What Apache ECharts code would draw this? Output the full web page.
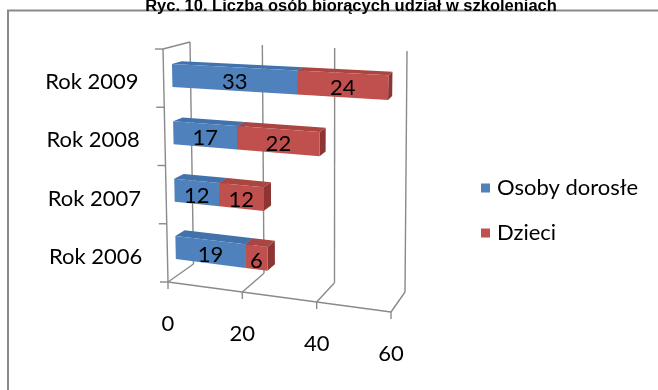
<!DOCTYPE html>
<html>
<head>
<meta charset="utf-8">
<script src="https://cdn.jsdelivr.net/npm/echarts@6/dist/echarts.min.js"></script>
<style>
  html, body { margin: 0; padding: 0; background: #fff; }
  #chart { width: 658px; height: 390px; }
</style>
</head>
<body>
<div id="chart"></div>
<script>
// ---- data ----
const chartTitle = 'Ryc. 10. Liczba osób biorących udział w szkoleniach';
const years = ['Rok 2006', 'Rok 2007', 'Rok 2008', 'Rok 2009'];
const adults = [19, 12, 17, 33];
const children = [6, 12, 22, 24];
const valueTicks = [0, 20, 40, 60];
const seriesNames = ['Osoby dorosłe', 'Dzieci'];

// ---- 3D box used to give the bars perspective ----
// screen corners: f = front plane, k = back plane; b = floor, t = ceiling; [left, right]
const BOX = {
  f: { b: [[168, 282], [391, 312]], t: [[163, 49], [397, 60]] },
  k: { b: [[193.5, 264], [405, 292]], t: [[190, 42], [407, 51]] }
};
const BAR_Z = [0.32, 0.68];      // depth range of the bars inside the box
const BAR_FILL = 0.4;            // bar thickness as a share of the category band
const FONT = '22px Lato, "Open Sans", sans-serif';
const LINE = { stroke: '#8a8a8a', lineWidth: 1.4 };

function lerp(a, b, t) { return [a[0] + (b[0] - a[0]) * t, a[1] + (b[1] - a[1]) * t]; }
function project(u, w, z) {
  const f = lerp(lerp(BOX.f.b[0], BOX.f.b[1], u), lerp(BOX.f.t[0], BOX.f.t[1], u), w);
  const k = lerp(lerp(BOX.k.b[0], BOX.k.b[1], u), lerp(BOX.k.t[0], BOX.k.t[1], u), w);
  return lerp(f, k, z);
}
// pixel position in the flat grid -> normalised (u, w)
function norm(cs, p) {
  return [(p[0] - cs.x) / cs.width, (cs.y + cs.height - p[1]) / cs.height];
}

function barRenderer(shade) {
  return function (params, api) {
    const cs = params.coordSys;
    const cat = api.value(0), base = api.value(1), val = api.value(2);
    const a = norm(cs, api.coord([base, cat]));
    const b = norm(cs, api.coord([base + val, cat]));
    const dh = api.size([0, 1])[1] * BAR_FILL / 2 / cs.height;
    const u0 = a[0], u1 = b[0], w0 = a[1] - dh, w1 = a[1] + dh;
    const z0 = BAR_Z[0], z1 = BAR_Z[1];
    const front = [project(u0, w0, z0), project(u1, w0, z0), project(u1, w1, z0), project(u0, w1, z0)];
    const top = [project(u0, w1, z0), project(u1, w1, z0), project(u1, w1, z1), project(u0, w1, z1)];
    const side = [project(u1, w0, z0), project(u1, w0, z1), project(u1, w1, z1), project(u1, w1, z0)];
    const c = project((u0 + u1) / 2, (w0 + w1) / 2, z0);
    return {
      type: 'group',
      children: [
        { type: 'polygon', shape: { points: side }, style: { fill: shade.side } },
        { type: 'polygon', shape: { points: top }, style: { fill: shade.top } },
        { type: 'polygon', shape: { points: front }, style: { fill: shade.front } },
        {
          type: 'text', z2: 10,
          style: { text: String(val), x: c[0], y: c[1] + 3, align: 'center', verticalAlign: 'middle', font: FONT, fill: '#000' }
        }
      ]
    };
  };
}

// value gridlines on back wall and floor, with ticks and labels
function valueGridRenderer(params, api) {
  const cs = params.coordSys;
  const v = api.value(0);
  const u = norm(cs, api.coord([v, 0]))[0];
  const fb = project(u, 0, 0), kb = project(u, 0, 1), kt = project(u, 1, 1);
  return {
    type: 'group',
    children: [
      { type: 'line', shape: { x1: kb[0], y1: kb[1], x2: kt[0], y2: kt[1] }, style: LINE },
      { type: 'line', shape: { x1: fb[0], y1: fb[1], x2: kb[0], y2: kb[1] }, style: LINE },
      { type: 'line', shape: { x1: fb[0], y1: fb[1], x2: fb[0], y2: fb[1] + 7 }, style: LINE },
      {
        type: 'text',
        style: { text: String(v), x: fb[0], y: fb[1] + 42, align: 'center', verticalAlign: 'middle', font: FONT, fill: '#000' }
      }
    ]
  };
}

// floor front edge, category axis edge, side-wall top edge and category ticks/labels
function frameRenderer(params, api) {
  const cs = params.coordSys;
  const n = years.length;
  const items = [];
  const seg = (p, q) => items.push({ type: 'line', shape: { x1: p[0], y1: p[1], x2: q[0], y2: q[1] }, style: LINE });
  seg(project(0, 0, 0), project(1, 0, 0));
  seg(project(0, 0, 0), project(0, 1, 0));
  seg(project(0, 1, 0), project(0, 1, 1));
  for (let k = 0; k <= n; k++) {
    const p = project(0, k / n, 0);
    seg(p, [p[0] - 8, p[1]]);
  }
  years.forEach(function (label, i) {
    const w = norm(cs, api.coord([0, i]))[1];
    const p = project(0, w, 0);
    items.push({
      type: 'text',
      style: { text: label, x: p[0] - 25, y: p[1] + 4, align: 'right', verticalAlign: 'middle', font: FONT, fill: '#000' }
    });
  });
  return { type: 'group', children: items };
}

const adultData = adults.map((v, i) => [i, 0, v]);
const childData = children.map((v, i) => [i, adults[i], v]);

const chart = echarts.init(document.getElementById('chart'), null, { renderer: 'canvas' });
chart.setOption({
  animation: false,
  backgroundColor: '#fff',
  graphic: [
    {
      type: 'rect', silent: true,
      shape: { x: 8, y: 10.5, width: 700, height: 420 },
      style: { fill: 'none', stroke: '#8a8a8a', lineWidth: 2 }
    },
    {
      type: 'text', silent: true, z: 10,
      style: {
        text: chartTitle, x: 351, y: 6,
        align: 'center', verticalAlign: 'middle', textAlign: 'center', textVerticalAlign: 'middle',
        font: 'bold 16.5px "Liberation Sans", Arial, sans-serif', fill: '#000'
      }
    }
  ],
  grid: { left: 165, right: 267, top: 53, bottom: 106, show: false },
  xAxis: { type: 'value', min: 0, max: 60, interval: 20, show: false },
  yAxis: { type: 'category', data: years, show: false },
  legend: {
    data: seriesNames,
    orient: 'vertical',
    left: 476, top: 172,
    icon: 'rect', itemWidth: 9, itemHeight: 9, itemGap: 23,
    selectedMode: false,
    textStyle: { fontFamily: 'Lato', fontSize: 22, color: '#000', lineHeight: 22, padding: [0, 0, 0, 2] }
  },
  series: [
    {
      type: 'custom', name: 'grid', coordinateSystem: 'cartesian2d', silent: true, z: 1,
      data: valueTicks.map(v => [v, 0]), encode: { x: 0, y: 1 },
      renderItem: valueGridRenderer
    },
    {
      type: 'custom', name: 'frame', coordinateSystem: 'cartesian2d', silent: true, z: 1,
      data: [[0, 0]], encode: { x: 0, y: 1 },
      renderItem: frameRenderer
    },
    {
      type: 'custom', name: seriesNames[0], coordinateSystem: 'cartesian2d', z: 2,
      itemStyle: { color: '#4F81BD' },
      data: adultData, encode: { x: 2, y: 0 },
      renderItem: barRenderer({ front: '#4F81BD', top: '#4272ab', side: '#36608f' })
    },
    {
      type: 'custom', name: seriesNames[1], coordinateSystem: 'cartesian2d', z: 3,
      itemStyle: { color: '#C0504D' },
      data: childData, encode: { x: 2, y: 0 },
      renderItem: barRenderer({ front: '#C0504D', top: '#ab4542', side: '#8c3533' })
    }
  ]
});
</script>
</body>
</html>
